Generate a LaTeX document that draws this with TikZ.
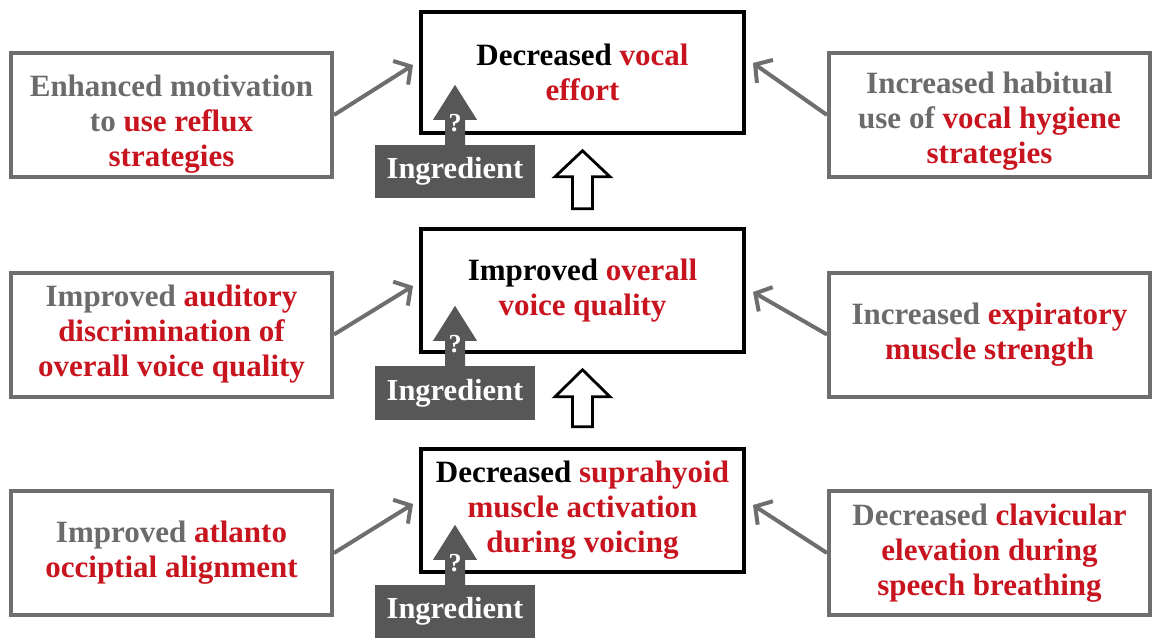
\documentclass[tikz,border=0pt]{standalone}
\usepackage{fontspec}
\setmainfont{Liberation Serif}
\usetikzlibrary{arrows.meta,calc}
\definecolor{txtgray}{HTML}{6B6B6B}
\definecolor{boxgray}{HTML}{6E6E6E}
\definecolor{myred}{HTML}{C8141E}
\definecolor{ingfill}{HTML}{575757}
\newcommand{\rd}[1]{\textcolor{myred}{#1}}
\newcommand{\lowstrut}{\rule{0pt}{40pt}}
\begin{document}
\begin{tikzpicture}[x=1pt,y=-1pt,
  bigfont/.style={font=\fontsize{31}{35}\selectfont\bfseries},
  sidebox/.style={bigfont, draw=boxgray, line width=4pt, minimum width=321pt, minimum height=124pt, align=center, text=txtgray, inner sep=0pt},
  centbox/.style={bigfont, draw=black, line width=4.5pt, minimum width=323pt, minimum height=121pt, align=center, text=black, inner sep=0pt},
  ingbox/.style={font=\fontsize{30.5}{34}\selectfont\bfseries, fill=ingfill, text=white, minimum width=160pt, minimum height=53pt, inner sep=0pt},
  qmark/.style={font=\fontsize{26}{28}\selectfont\bfseries, text=white, inner sep=0pt},
  garrow/.style={draw=boxgray, line width=4pt, -{Straight Barb[length=12pt,width=28pt]}},
  hollow/.style={draw=black, line width=2.8pt, fill=white, line join=miter},
  ingarrow/.style={fill=ingfill}
]
\useasboundingbox (0,0) rectangle (1153,637);

% central boxes
\node[centbox] (ctop) at (582.5,72.5) {Decreased \rd{vocal}\\\rd{effort}};
\node[centbox, minimum height=123pt] (cmid) at (582.5,290.5) {Improved \rd{overall}\\\rd{voice quality}};
\node[centbox, minimum height=123pt] (cbot) at (582.5,510.5) {Decreased \rd{suprahyoid}\\\rd{muscle activation}\\\rd{during voicing}};

% side boxes
\node[sidebox] (l1) at (171.5,115) {\lowstrut Enhanced motivation\\to \rd{use reflux}\\\rd{strategies}};
\node[sidebox] (l2) at (171.5,334.5) {Improved \rd{auditory}\\\rd{discrimination of}\\\rd{overall voice quality}};
\node[sidebox] (l3) at (171.5,553) {Improved \rd{atlanto}\\\rd{occiptial alignment}};
\node[sidebox] (r1) at (989.5,115) {\rule{0pt}{34pt}Increased habitual\\use of \rd{vocal hygiene}\\\rd{strategies}};
\node[sidebox] (r2) at (989.5,334.5) {Increased \rd{expiratory}\\\rd{muscle strength}};
\node[sidebox] (r3) at (989.5,553) {Decreased \rd{clavicular}\\\rd{elevation during}\\\rd{speech breathing}};

% arrow tips near central boxes
\coordinate (tl1) at (413,65);
\coordinate (tl2) at (413,286);
\coordinate (tl3) at (413,504);
\coordinate (tr1) at (753,63);
\coordinate (tr2) at (753,292);
\coordinate (tr3) at (753,505);

\draw[garrow] (l1.east) -- (tl1);
\draw[garrow] (l2.east) -- (tl2);
\draw[garrow] (l3.east) -- (tl3);
\draw[garrow] (r1.west) -- (tr1);
\draw[garrow] (r2.west) -- (tr2);
\draw[garrow] (r3.west) -- (tr3);

% hollow arrows between central boxes
\draw[hollow, shift={(cmid.north)}] (-10,-18) -- (-10,-50) -- (-27.5,-50) -- (0,-76) -- (27.5,-50) -- (10,-50) -- (10,-18) -- cycle;
\draw[hollow, shift={(cbot.north)}] (-10,-20) -- (-10,-50) -- (-27.5,-50) -- (0,-77) -- (27.5,-50) -- (10,-50) -- (10,-20) -- cycle;

% ingredient boxes and arrows
\node[ingbox] (i1) at (455,171.5) {Ingredient};
\node[ingbox, minimum height=54pt] (i2) at (455,393) {Ingredient};
\node[ingbox] (i3) at (455,611.5) {Ingredient};
\foreach \i in {i1,i2,i3}{
  \fill[ingarrow, shift={(\i.north)}] (-10,1) -- (-10,-25) -- (-22,-25) -- (0,-60) -- (22,-25) -- (10,-25) -- (10,1) -- cycle;
}
\node[qmark] (q1) at ($(i1.north)+(0,-22)$) {?};
\node[qmark] (q2) at ($(i2.north)+(0,-22)$) {?};
\node[qmark] (q3) at ($(i3.north)+(0,-22)$) {?};
\end{tikzpicture}
\end{document}
